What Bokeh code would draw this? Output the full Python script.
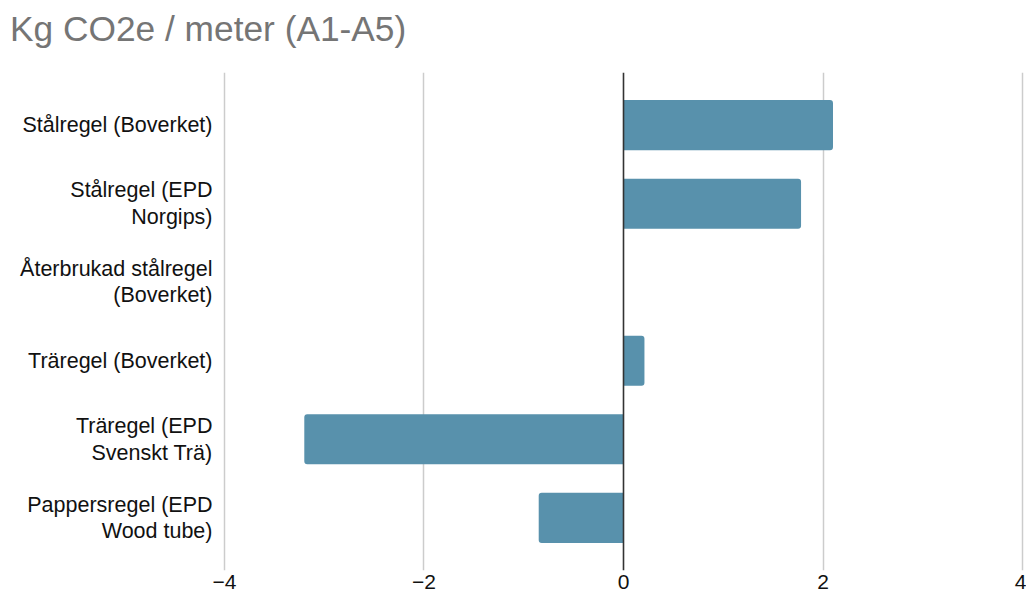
from bokeh.plotting import figure
from bokeh.layouts import column
from bokeh.models import Range1d, FixedTicker, Span, Div
from bokeh.embed import file_html
from bokeh.resources import INLINE

# Emissions per running metre of stud, A1-A5 (kg CO2e / m)
title_text = "Kg CO2e / meter (A1-A5)"
categories = [
    "Stålregel (Boverket)",
    "Stålregel (EPD\nNorgips)",
    "Återbrukad stålregel\n(Boverket)",
    "Träregel (Boverket)",
    "Träregel (EPD\nSvenskt Trä)",
    "Pappersregel (EPD\nWood tube)",
]
values = [2.1, 1.78, 0.0, 0.21, -3.2, -0.85]

x_ticks = [-4, -2, 0, 2, 4]
x_tick_labels = ["\u22124", "\u22122", "0", "2", "4"]

BAR = "#5891AC"
FONT = "Liberation Sans"

rows = list(range(len(categories)))

heading = Div(
    text=title_text, width=1026, height=60, margin=0,
    styles={
        "font-family": FONT, "font-size": "35.3px", "line-height": "42px",
        "color": "#757575", "padding-top": "8px", "padding-left": "10px",
        "box-sizing": "border-box", "white-space": "nowrap",
    },
)

p = figure(
    width=1026, height=543,
    x_range=Range1d(-4.02, 4.02),
    y_range=Range1d(len(categories) - 1 + 0.67, -0.67),
    output_backend="svg", toolbar_location=None,
    min_border_left=222, min_border_right=2,
    min_border_top=12, min_border_bottom=33,
    margin=0,
)
p.outline_line_color = None
p.background_fill_color = "white"
p.border_fill_color = "white"

# bars: positive ones rounded on the right end, negative on the left end
pos_rows = [r for r in rows if values[r] > 0]
neg_rows = [r for r in rows if values[r] < 0]
p.hbar(y=pos_rows, left=0, right=[values[r] for r in pos_rows], height=0.637,
       fill_color=BAR, line_color=None, border_radius=(0, 3, 3, 0))
p.hbar(y=neg_rows, left=[values[r] for r in neg_rows], right=0, height=0.637,
       fill_color=BAR, line_color=None, border_radius=(3, 0, 0, 3))

# zero line
p.add_layout(Span(location=0, dimension="height", line_color="#333333",
                  line_width=1.6))

# x axis
xa = p.xaxis[0]
xa.ticker = FixedTicker(ticks=x_ticks)
xa.major_label_overrides = dict(zip(x_ticks, x_tick_labels))
xa.axis_line_color = None
xa.major_tick_line_color = None
xa.minor_tick_line_color = None
xa.major_tick_out = 0
xa.major_label_standoff = 4
xa.major_label_text_font = FONT
xa.major_label_text_font_size = "21px"
xa.major_label_text_color = "#111111"

# y axis with category labels
ya = p.yaxis[0]
ya.ticker = FixedTicker(ticks=rows)
ya.major_label_overrides = dict(zip(rows, categories))
ya.axis_line_color = None
ya.major_tick_line_color = None
ya.minor_tick_line_color = None
ya.major_tick_out = 0
ya.major_label_standoff = 10
ya.major_label_text_font = FONT
ya.major_label_text_font_size = "21.5px"
ya.major_label_text_line_height = 1.1
ya.major_label_text_color = "#111111"
ya.major_label_text_align = "right"

p.xgrid.ticker = FixedTicker(ticks=[t for t in x_ticks if t != 0])
p.xgrid.grid_line_color = "#cccccc"
p.xgrid.grid_line_width = 1.5
p.ygrid.grid_line_color = None

layout = column(heading, p, spacing=0, margin=0)

open("out.html", "w").write(file_html(layout, INLINE))
